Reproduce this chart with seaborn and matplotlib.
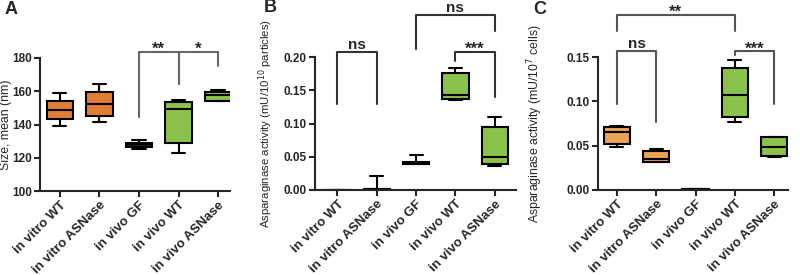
import matplotlib
matplotlib.use("Agg")
import matplotlib.pyplot as plt
import matplotlib.ticker as mticker
import numpy as np
import pandas as pd
import seaborn as sns

# 组别
groups = ["in vitro WT", "in vitro ASNase", "in vivo GF", "in vivo WT", "in vivo ASNase"]

# 每组: 最小值, Q1, 中位数, Q3, 最大值
size_wt_vitro = [139.2, 143.6, 149.0, 154.3, 158.7]
size_asn_vitro = [141.4, 145.4, 152.5, 159.5, 164.5]
size_gf = [125.5, 126.7, 128.0, 129.1, 130.4]
size_wt_vivo = [123.1, 129.0, 149.6, 153.7, 154.7]
size_asn_vivo = [154.0, 154.3, 157.5, 159.5, 160.9]

part_wt_vitro = [0.0, 0.0, 0.0, 0.0, 0.0]
part_asn_vitro = [0.0, 0.0, 0.001, 0.002, 0.0216]
part_gf = [0.0387, 0.0395, 0.041, 0.0425, 0.0532]
part_wt_vivo = [0.136, 0.1365, 0.1426, 0.176, 0.184]
part_asn_vivo = [0.0366, 0.0397, 0.050, 0.0954, 0.110]

cell_wt_vitro = [0.0484, 0.0514, 0.065, 0.0707, 0.0722]
cell_asn_vitro = [0.0318, 0.0321, 0.0348, 0.0435, 0.0461]
cell_gf = [0.0, 0.0, 0.001, 0.0015, 0.0015]
cell_wt_vivo = [0.0771, 0.0828, 0.1066, 0.138, 0.147]
cell_asn_vivo = [0.0367, 0.0386, 0.049, 0.0593, 0.060]

# 显著性标记: (左组, 右组, 顶部, 左腿底, 右腿底, 文本)
brackets_a = [(2, 3, 183.6, 144.8, 164.3, "**"), (3, 4, 183.6, 164.3, 175.0, "*")]
brackets_b = [(0, 1, 0.2073, 0.1295, 0.1295, "ns"), (2, 4, 0.2625, 0.2118, 0.2394, "ns"),
              (3, 4, 0.2073, 0.1933, 0.1406, "***")]
brackets_c = [(0, 3, 0.1973, 0.1788, 0.1788, "**"), (0, 1, 0.1565, 0.0968, 0.0764, "ns"),
              (3, 4, 0.1565, 0.1527, 0.0968, "***")]

sns.set_style("ticks")
plt.rcParams["font.family"] = ["Liberation Sans", "DejaVu Sans"]


def make_df(vals):
    rows = []
    for g, v in zip(groups, vals):
        for x in v:
            rows.append({"group": g, "value": x})
    return pd.DataFrame(rows)


def draw_panel(ax, vals, palette, ylim, yticks, ylabel, label_x, label_size, xlim, brackets, bcolor):
    df = make_df(vals)
    sns.boxplot(data=df, x="group", y="value", hue="group", palette=palette, ax=ax,
                whis=(0, 100), width=0.67, linecolor="black", linewidth=1.5,
                showfliers=False, saturation=1, legend=False)
    ax.set_ylim(*ylim)
    ax.set_xlim(*xlim)
    ax.set_yticks(yticks)
    if ylim[1] < 1:
        ax.yaxis.set_major_formatter(mticker.FormatStrFormatter("%.2f"))
    ax.set_xlabel("")
    ax.set_ylabel(ylabel, fontsize=label_size)
    ax.yaxis.set_label_coords(label_x, 0.5)
    ax.set_xticks(range(len(groups)))
    ax.set_xticklabels(groups, rotation=45, ha="right", rotation_mode="anchor",
                       fontsize=9.5, fontweight="bold")
    for lab in ax.get_yticklabels():
        lab.set_fontweight("bold")
        lab.set_fontsize(8.5)
    ax.tick_params(width=1.5, length=4, pad=2)
    sns.despine(ax=ax)
    for s in ["left", "bottom"]:
        ax.spines[s].set_linewidth(1.5)
    for i, j, top, yl, yr, txt in brackets:
        ax.plot([i, i, j, j], [yl, top, top, yr], color=bcolor, lw=1.5, clip_on=False)
        if txt == "ns":
            ax.annotate(txt, ((i + j) / 2, top), xytext=(0, 2.5), textcoords="offset points",
                        ha="center", va="baseline", fontsize=11, fontweight="bold",
                        annotation_clip=False)
        else:
            ax.annotate(txt, ((i + j) / 2, top), xytext=(0, -1.5), textcoords="offset points",
                        ha="center", va="baseline", fontsize=12, fontweight="bold",
                        annotation_clip=False)


fig = plt.figure(figsize=(8, 2.75), dpi=100)
ax_a = fig.add_axes([40 / 800, 1 - 191 / 275, 190 / 800, 133 / 275])
ax_b = fig.add_axes([315 / 800, 1 - 190 / 275, 201 / 800, 133 / 275])
ax_c = fig.add_axes([598 / 800, 1 - 190 / 275, 190 / 800, 133 / 275])

orange_a = "#E07E36"
orange_c = "#E9A456"
green = "#8BC24C"
dark = "#222222"

draw_panel(ax_a, [size_wt_vitro, size_asn_vitro, size_gf, size_wt_vivo, size_asn_vivo],
           [orange_a, orange_a, dark, green, green], (100, 180), [100, 120, 140, 160, 180],
           "Size, mean (nm)", -0.15, 8.8, (-0.5, 4.3), brackets_a, "#666666")
draw_panel(ax_b, [part_wt_vitro, part_asn_vitro, part_gf, part_wt_vivo, part_asn_vivo],
           [orange_a, orange_a, dark, green, green], (0, 0.20), [0.0, 0.05, 0.10, 0.15, 0.20],
           "Asparaginase activity (mU/10$^{10}$ particles)", -0.2, 8.2, (-0.57, 4.54), brackets_b,
           "#333333")
draw_panel(ax_c, [cell_wt_vitro, cell_asn_vitro, cell_gf, cell_wt_vivo, cell_asn_vivo],
           [orange_c, orange_c, dark, green, green], (0, 0.15), [0.0, 0.05, 0.10, 0.15],
           "Asparaginase activity (mU/10$^7$ cells)", -0.28, 8.8, (-0.48, 4.35), brackets_c,
           "#555555")

fig.text(5 / 800, 1 - 9 / 275, "A", fontsize=13, fontweight="bold", va="center")
fig.text(264 / 800, 1 - 8 / 275, "B", fontsize=13, fontweight="bold", va="center")
fig.text(533 / 800, 1 - 9 / 275, "C", fontsize=13, fontweight="bold", va="center")

fig.savefig("out.png", dpi=100)
